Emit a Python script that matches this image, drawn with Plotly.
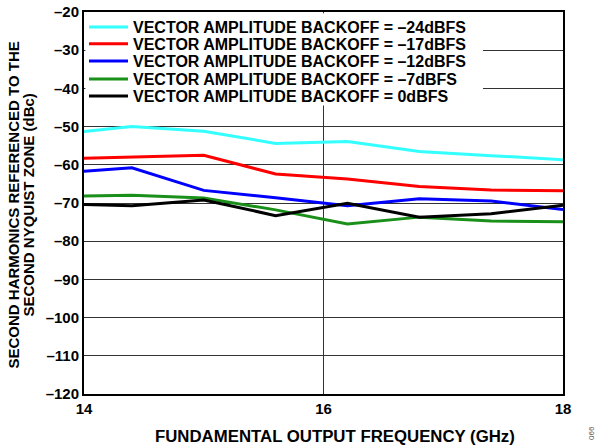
import plotly.graph_objects as go

freq = [14, 14.4, 15, 15.6, 16.2, 16.8, 17.4, 18]
names = [
    "VECTOR AMPLITUDE BACKOFF = \u201324dBFS",
    "VECTOR AMPLITUDE BACKOFF = \u201317dBFS",
    "VECTOR AMPLITUDE BACKOFF = \u201312dBFS",
    "VECTOR AMPLITUDE BACKOFF = \u20137dBFS",
    "VECTOR AMPLITUDE BACKOFF = 0dBFS",
]
bo_24 = [-51.3, -50.0, -51.2, -54.4, -53.9, -56.5, -57.6, -58.7]
bo_17 = [-58.3, -58.0, -57.5, -62.4, -63.7, -65.7, -66.6, -66.8]
bo_12 = [-61.7, -60.8, -66.7, -68.6, -70.7, -68.9, -69.5, -71.7]
bo_7 = [-68.2, -68.0, -68.7, -71.8, -75.5, -73.7, -74.7, -74.9]
bo_0 = [-70.4, -70.7, -69.2, -73.3, -70.1, -73.7, -72.8, -70.6]
colors = ["#33FFFF", "#FF0000", "#0000FF", "#1A8F1A", "#000000"]
y_ticks = list(range(-120, -10, 10))
y_labels = ["\u2013%d" % -v for v in y_ticks]

font = "Liberation Sans, Arial, sans-serif"

# one legend per trace so the rows can sit closer than plotly's minimum row height
legend_y = [0.958, 0.914, 0.869, 0.822, 0.778]
fig = go.Figure()
legends = {}
for i, (name, ys, c) in enumerate(zip(names, [bo_24, bo_17, bo_12, bo_7, bo_0], colors)):
    key = "legend" if i == 0 else "legend%d" % (i + 1)
    fig.add_trace(go.Scatter(x=freq, y=ys, mode="lines", name=name, legend=key,
                             line=dict(color=c, width=3)))
    legends[key] = dict(x=0, y=legend_y[i], xanchor="left", yanchor="middle",
                        bgcolor="rgba(0,0,0,0)", borderwidth=0, itemwidth=39,
                        font=dict(size=16, family=font, weight="bold"))

fig.update_layout(
    width=597, height=446,
    margin=dict(l=84, r=34, t=11, b=52),
    paper_bgcolor="white", plot_bgcolor="white",
    font=dict(family=font, size=15, color="black"),
    showlegend=True,
    xaxis=dict(range=[14, 18], tickvals=[14, 16, 18], showgrid=True,
               gridcolor="#333", gridwidth=1, showline=True, linecolor="black",
               linewidth=2, mirror=True, ticks="", zeroline=False, automargin=False,
               tickfont=dict(size=15, weight="bold")),
    yaxis=dict(range=[-120, -20], tickvals=y_ticks, ticktext=y_labels,
               showgrid=True, gridcolor="#333", gridwidth=1, showline=True,
               linecolor="black", linewidth=2, mirror=True, ticks="",
               zeroline=False, automargin=False, tickfont=dict(size=15, weight="bold")),
    **legends,
)

# white block behind the legend rows (hides the gridlines there)
fig.add_shape(type="rect", xref="paper", yref="paper", x0=0.003, x1=0.833,
              y0=0.755, y1=0.997, fillcolor="white", line_width=0, layer="above")

# axis titles as annotations to get the tight two-line spacing
fig.add_annotation(text="SECOND HARMONICS REFERENCED TO THE", x=0, xref="paper",
                   xanchor="center", xshift=-71.5, y=0.5, yref="paper",
                   yanchor="middle", yshift=-2, textangle=-90, showarrow=False,
                   font=dict(size=15, weight="bold"))
fig.add_annotation(text="SECOND NYQUIST ZONE (dBc)", x=0, xref="paper",
                   xanchor="center", xshift=-56.5, y=0.5, yref="paper",
                   yanchor="middle", yshift=-2, textangle=-90, showarrow=False,
                   font=dict(size=15, weight="bold"))
fig.add_annotation(text="FUNDAMENTAL OUTPUT FREQUENCY (GHz)", x=0.5, xref="paper",
                   xanchor="center", xshift=11, y=0, yref="paper",
                   yanchor="middle", yshift=-42, showarrow=False,
                   font=dict(size=16.8, weight="bold"))
fig.add_annotation(text="066", x=1, xref="paper", xanchor="center", xshift=28,
                   y=0, yref="paper", yanchor="middle", yshift=-39,
                   textangle=-90, showarrow=False,
                   font=dict(size=8, color="#555"))
# drop the browser's default 8px body margin so the figure sits at the page corner
fig.write_html("out.html", config={"displayModeBar": False},
               post_script="document.body.style.margin='0';")
